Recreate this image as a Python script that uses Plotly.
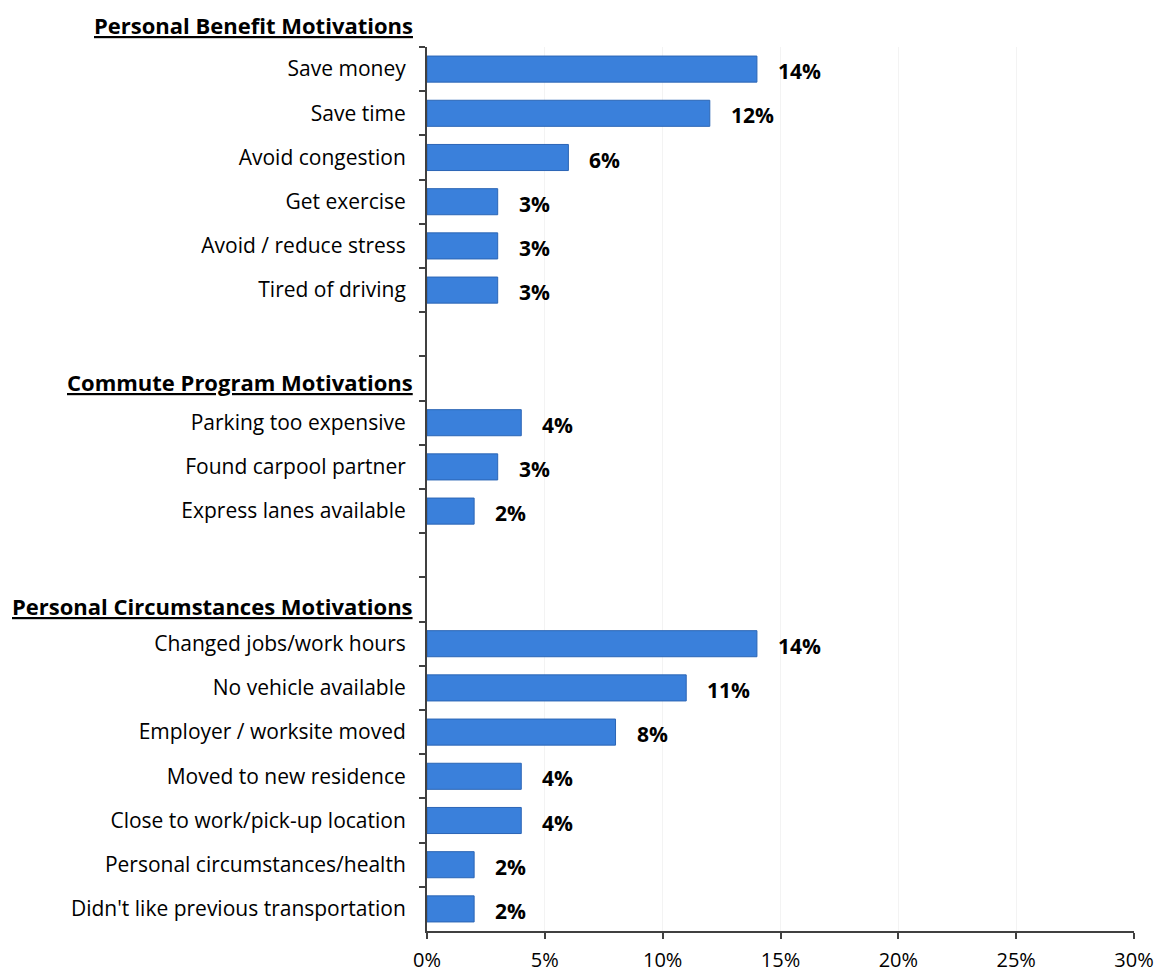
import plotly.graph_objects as go

# Motivations for switching commute mode, grouped by motivation type
categories = [
    "Save money", "Save time", "Avoid congestion", "Get exercise",
    "Avoid / reduce stress", "Tired of driving",
    " ", "  ",
    "Parking too expensive", "Found carpool partner", "Express lanes available",
    "   ", "    ",
    "Changed jobs/work hours", "No vehicle available", "Employer / worksite moved",
    "Moved to new residence", "Close to work/pick-up location",
    "Personal circumstances/health", "Didn't like previous transportation",
]
values = [
    0.14, 0.12, 0.06, 0.03, 0.03, 0.03,
    None, None,
    0.04, 0.03, 0.02,
    None, None,
    0.14, 0.11, 0.08, 0.04, 0.04, 0.02, 0.02,
]
group_headers = [
    "Personal Benefit Motivations",
    "Commute Program Motivations",
    "Personal Circumstances Motivations",
]
header_rows = [-1, 7, 12]

x_ticks = [0, 0.05, 0.10, 0.15, 0.20, 0.25, 0.30]
x_ticklabels = ["0%", "5%", "10%", "15%", "20%", "25%", "30%"]

FONT = "'Open Sans', Lato, sans-serif"
n_rows = len(categories)

fig = go.Figure()
fig.add_trace(go.Bar(
    x=values,
    y=categories,
    orientation="h",
    marker=dict(color="#3a80db", line=dict(color="#2b65b5", width=1)),
    hoverinfo="skip",
))

# bold value labels to the right of each bar
for cat, v in zip(categories, values):
    if v is None:
        continue
    fig.add_annotation(
        x=v, y=cat, xref="x", yref="y",
        text=f"<b>{round(v * 100)}%</b>",
        showarrow=False, xanchor="left", yanchor="middle",
        xshift=19, yshift=-2,
        font=dict(family=FONT, size=21, color="#000000"),
    )

# underlined group headings in the label column (row -1 sits above the plot area)
for title, row in zip(group_headers, header_rows):
    fig.add_annotation(
        x=0, y=1 - (row + 0.5) / n_rows, xref="paper", yref="paper",
        text=f"<b><u>{title}</u></b>",
        showarrow=False, xanchor="right", yanchor="middle",
        xshift=-12, yshift={-1: 0, 7: -3, 12: -6}[row],
        font=dict(family=FONT, size=22, color="#000000"),
    )

fig.update_layout(
    width=1161, height=975,
    margin=dict(l=427, r=27, t=47, b=44),
    paper_bgcolor="white", plot_bgcolor="white",
    showlegend=False,
    bargap=0.41,
    font=dict(family=FONT, size=20, color="#000000"),
)
fig.update_xaxes(
    range=[0, 0.30],
    tickvals=x_ticks, ticktext=x_ticklabels,
    showline=True, linecolor="#404040", linewidth=2,
    ticks="outside", ticklen=6, tickwidth=2, tickcolor="#404040",
    ticklabelstandoff=4,
    showgrid=True, gridcolor="#f3f3f3", gridwidth=1,
    zeroline=False, automargin=False,
    tickfont=dict(family=FONT, size=20, color="#000000"),
)
fig.update_yaxes(
    type="category",
    categoryorder="array", categoryarray=categories,
    range=[n_rows - 0.5, -0.5],
    showline=True, linecolor="#404040", linewidth=2,
    ticks="outside", tickson="boundaries", ticklen=6, tickwidth=2, tickcolor="#404040",
    ticklabelstandoff=15,
    showgrid=False, zeroline=False, automargin=False,
    tickfont=dict(family=FONT, size=21, color="#000000"),
)

fig.write_html("out.html")
